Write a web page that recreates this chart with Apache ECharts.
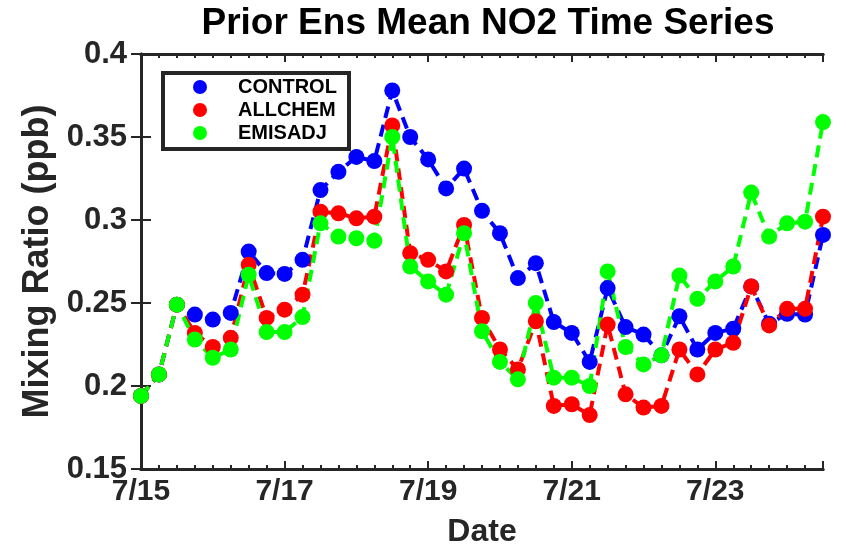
<!DOCTYPE html>
<html>
<head>
<meta charset="utf-8">
<script src="https://cdn.jsdelivr.net/npm/echarts@6/dist/echarts.min.js"></script>
<style>
  html, body { margin: 0; padding: 0; background: #fff; }
  #chart { width: 846px; height: 551px; }
</style>
</head>
<body>
<div id="chart"></div>
<script>
// days after 7/15 00:00, one value every 6 hours
var dayOffsets = [0, 0.25, 0.5, 0.75, 1, 1.25, 1.5, 1.75, 2, 2.25, 2.5, 2.75, 3, 3.25,
  3.5, 3.75, 4, 4.25, 4.5, 4.75, 5, 5.25, 5.5, 5.75, 6, 6.25, 6.5, 6.75, 7, 7.25,
  7.5, 7.75, 8, 8.25, 8.5, 8.75, 9, 9.25, 9.5]

var control = [0.194, 0.207, 0.249, 0.243, 0.240, 0.244, 0.281, 0.268, 0.2675, 0.276,
  0.318, 0.329, 0.338, 0.3355, 0.378, 0.350, 0.3365, 0.319, 0.331, 0.3055,
  0.292, 0.265, 0.274, 0.2385, 0.232, 0.2145, 0.259, 0.2355, 0.231, 0.2185,
  0.242, 0.222, 0.232, 0.2345, 0.260, 0.2375, 0.2435, 0.243, 0.291]

var allchem = [0.194, 0.207, 0.249, 0.232, 0.2235, 0.229, 0.273, 0.241, 0.246, 0.255,
  0.305, 0.304, 0.301, 0.302, 0.357, 0.280, 0.276, 0.269, 0.297, 0.241,
  0.222, 0.210, 0.239, 0.188, 0.189, 0.1825, 0.237, 0.195, 0.187, 0.188,
  0.222, 0.207, 0.222, 0.226, 0.260, 0.2365, 0.2465, 0.2465, 0.302]

var emisadj = [0.194, 0.207, 0.249, 0.228, 0.217, 0.222, 0.267, 0.2325, 0.2325, 0.2415,
  0.298, 0.290, 0.289, 0.2875, 0.350, 0.272, 0.263, 0.255, 0.292, 0.233,
  0.2145, 0.204, 0.250, 0.205, 0.205, 0.200, 0.269, 0.2235, 0.213, 0.2185,
  0.2665, 0.2525, 0.263, 0.272, 0.3165, 0.290, 0.298, 0.299, 0.359]

var seriesNames = ['CONTROL', 'ALLCHEM', 'EMISADJ']
var seriesColors = ['#0000ff', '#ff0000', '#00ff00']
var seriesValues = [control, allchem, emisadj]

var axisColor = '#262626'
var font = 'Liberation Sans, Arial, Helvetica, sans-serif'

function pairs (values) {
  return values.map(function (v, i) { return [dayOffsets[i], v] })
}

function xAxisDef (pos, interval, tickLen, withLabels) {
  var ax = {
    type: 'value', position: pos, min: 0, max: 9.5, interval: interval,
    axisLine: { show: true, lineStyle: { color: axisColor, width: 3 } },
    axisTick: { show: true, inside: true, length: tickLen, lineStyle: { color: axisColor, width: 2 } },
    axisLabel: { show: false },
    splitLine: { show: false }
  }
  if (withLabels) {
    ax.axisLabel = {
      show: true, margin: 8, color: axisColor, fontFamily: font, fontWeight: 'bold', fontSize: 30,
      formatter: function (v) {
        var d = Math.round(v * 4) / 4
        return (d % 2 === 0) ? '7/' + (15 + d) : ''
      }
    }
    ax.name = 'Date'
    ax.nameLocation = 'middle'
    ax.nameGap = 47
    ax.nameTextStyle = { color: axisColor, fontFamily: font, fontWeight: 'bold', fontSize: 32 }
  }
  return ax
}

var chart = echarts.init(document.getElementById('chart'))

var option = {
  backgroundColor: '#fff',
  animation: false,
  title: {
    text: 'Prior Ens Mean NO2 Time Series',
    left: 483, top: 0, textAlign: 'center',
    textStyle: { color: '#000', fontFamily: font, fontWeight: 'bold', fontSize: 37 }
  },
  // legend frame
  graphic: [{
    type: 'rect', left: 161, top: 71, z: 5,
    shape: { width: 186, height: 76 },
    style: { fill: '#fff', stroke: axisColor, lineWidth: 4 }
  }],
  legend: {
    data: seriesNames,
    orient: 'vertical',
    left: 193, top: 77,
    padding: 0,
    itemGap: 3,
    itemWidth: 14, itemHeight: 14,
    icon: 'circle',
    z: 10,
    textStyle: { color: '#000', fontFamily: font, fontWeight: 'bold', fontSize: 20, lineHeight: 20, padding: [0, 0, 0, 26] }
  },
  grid: { left: 141, right: 23, top: 54, bottom: 82, containLabel: false, outerBoundsMode: 'none' },
  xAxis: [
    xAxisDef('bottom', 0.25, 4, true),
    xAxisDef('bottom', 2, 8, false),
    xAxisDef('top', 0.25, 4, false),
    xAxisDef('top', 2, 8, false)
  ],
  yAxis: [
    {
      type: 'value', position: 'left', min: 0.15, max: 0.4, interval: 0.05,
      axisLine: { show: true, lineStyle: { color: axisColor, width: 3 } },
      axisTick: { show: true, inside: true, length: 10, lineStyle: { color: axisColor, width: 2 } },
      axisLabel: {
        margin: 14, color: axisColor, fontFamily: font, fontWeight: 'bold', fontSize: 31,
        formatter: function (v) { return String(+v.toFixed(2)) }
      },
      splitLine: { show: false },
      name: 'Mixing Ratio (ppb)', nameLocation: 'middle', nameGap: 4,
      nameTextStyle: { color: axisColor, fontFamily: font, fontWeight: 'bold', fontSize: 36 }
    },
    {
      type: 'value', position: 'right', min: 0.15, max: 0.4, interval: 0.05,
      axisLine: { show: true, lineStyle: { color: axisColor, width: 3 } },
      axisTick: { show: true, inside: true, length: 10, lineStyle: { color: axisColor, width: 2 } },
      axisLabel: { show: false },
      splitLine: { show: false }
    }
  ],
  series: seriesNames.map(function (name, k) {
    return {
      name: name,
      type: 'line',
      xAxisIndex: 0, yAxisIndex: 0,
      data: pairs(seriesValues[k]),
      clip: false,
      symbol: 'circle',
      symbolSize: 16,
      itemStyle: { color: seriesColors[k] },
      lineStyle: { color: seriesColors[k], width: 4, type: [12, 7] }
    }
  })
}

chart.setOption(option)
</script>
</body>
</html>
